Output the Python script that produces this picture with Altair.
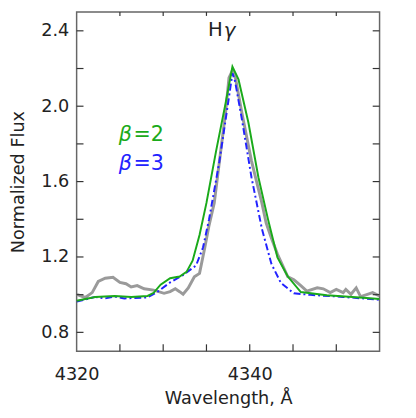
import altair as alt
import pandas as pd

# Observed spectrum (gray)
obs_wl = [4320.0, 4321.0, 4321.8, 4322.5, 4323.3, 4324.2, 4325.0, 4325.7, 4326.3, 4327.0,
          4327.8, 4328.9, 4330.1, 4330.8, 4331.4, 4331.9, 4332.3, 4332.9, 4333.6, 4334.2,
          4334.8, 4335.3, 4335.9, 4336.5, 4337.2, 4337.6, 4338.0, 4338.35, 4339.1, 4340.2,
          4341.4, 4341.9, 4342.5, 4343.2, 4344.4, 4345.1, 4345.9, 4346.6, 4347.8, 4348.5,
          4349.3, 4350.0, 4350.8, 4351.1, 4351.7, 4352.3, 4352.8, 4353.6, 4354.2, 4355.0]
obs_fx = [1.002, 0.985, 1.011, 1.070, 1.087, 1.092, 1.065, 1.058, 1.041, 1.048,
          1.031, 1.024, 1.007, 1.016, 1.031, 1.016, 1.002, 1.036, 1.095, 1.113,
          1.248, 1.368, 1.487, 1.708, 1.963, 2.150, 2.190, 2.150, 1.963, 1.710,
          1.487, 1.380, 1.300, 1.215, 1.095, 1.079, 1.048, 1.019, 1.036, 1.031,
          1.011, 1.028, 1.011, 1.028, 1.002, 1.036, 0.990, 1.002, 1.011, 0.993]

# Model beta=2 (green)
b2_wl = [4320.0, 4322.15, 4324.4, 4326.3, 4328.2, 4328.9, 4329.7, 4330.8, 4331.9, 4332.7,
         4333.4, 4334.2, 4335.0, 4336.1, 4337.2, 4338.0, 4338.7, 4339.85, 4341.0, 4342.1,
         4343.2, 4344.4, 4345.9, 4348.9, 4352.7, 4355.0]
b2_fx = [0.968, 0.988, 0.993, 0.988, 0.993, 1.010, 1.053, 1.087, 1.096, 1.121,
         1.180, 1.317, 1.487, 1.759, 2.014, 2.210, 2.142, 1.912, 1.623, 1.402,
         1.198, 1.096, 1.014, 0.997, 0.985, 0.977]

# Model beta=3 (blue)
b3_wl = [4320.0, 4322.15, 4323.3, 4324.4, 4325.5, 4328.2, 4329.3, 4330.8, 4332.3, 4333.8,
         4334.6, 4335.3, 4336.5, 4337.6, 4338.0, 4338.3, 4339.1, 4340.2, 4341.4, 4342.5,
         4343.6, 4345.1, 4347.0, 4350.8, 4355.0]
b3_fx = [0.963, 0.988, 0.980, 0.990, 0.980, 0.985, 1.014, 1.065, 1.104, 1.155,
         1.250, 1.400, 1.708, 2.048, 2.175, 2.133, 1.929, 1.623, 1.350, 1.164,
         1.062, 1.007, 0.999, 0.988, 0.973]

x_ticks = [4325, 4330, 4335, 4340, 4345, 4350]
x_labels = [4320, 4340]
y_ticks = [0.8, 1.0, 1.2, 1.4, 1.6, 1.8, 2.0, 2.2, 2.4]
y_labels = [0.8, 1.2, 1.6, 2.0, 2.4]

W, H = 309, 346
FONT = "DejaVu Sans"

obs = pd.DataFrame({"wl": obs_wl, "fx": obs_fx})
b2 = pd.DataFrame({"wl": b2_wl, "fx": b2_fx})
b3 = pd.DataFrame({"wl": b3_wl, "fx": b3_fx})
xt = pd.DataFrame({"v": x_ticks})
yt = pd.DataFrame({"v": y_ticks})

xscale = alt.Scale(domain=[4320, 4355], nice=False, zero=False)
yscale = alt.Scale(domain=[0.7, 2.5], nice=False, zero=False)

xenc = alt.X("wl:Q", scale=xscale,
             axis=alt.Axis(values=x_labels, ticks=False, domain=False, grid=False,
                           labelFontSize=18, labelFont=FONT, labelColor="#222",
                           labelPadding=15, format="d", labelFlush=False,
                           title="Wavelength, Å", titleFont=FONT, titleFontSize=18,
                           titleFontWeight="normal", titleColor="#222", titlePadding=6))
yenc = alt.Y("fx:Q", scale=yscale,
             axis=alt.Axis(values=y_labels, ticks=False, domain=False, grid=False,
                           labelFontSize=18, labelFont=FONT, labelColor="#222",
                           labelPadding=8, format=".1f", labelFlush=False,
                           title="Normalized Flux", titleFont=FONT, titleFontSize=18,
                           titleFontWeight="normal", titleColor="#222", titlePadding=14))

gray = alt.Chart(obs).mark_line(color="#9a9a9a", strokeWidth=3, clip=True).encode(x=xenc, y=yenc)
green = alt.Chart(b2).mark_line(color="#1aaa1a", strokeWidth=2, clip=True).encode(
    x=alt.X("wl:Q", scale=xscale), y=alt.Y("fx:Q", scale=yscale))
blue = alt.Chart(b3).mark_line(color="#2222ff", strokeWidth=2, strokeDash=[7, 3, 2, 3], clip=True).encode(
    x=alt.X("wl:Q", scale=xscale), y=alt.Y("fx:Q", scale=yscale))

tick_color = "#333"
bot = alt.Chart(xt).mark_rule(color=tick_color, strokeWidth=1.2).encode(
    x=alt.X("v:Q", scale=xscale), y=alt.value(H), y2=alt.value(H - 7))
top = alt.Chart(xt).mark_rule(color=tick_color, strokeWidth=1.2).encode(
    x=alt.X("v:Q", scale=xscale), y=alt.value(0), y2=alt.value(4))
left = alt.Chart(yt).mark_rule(color=tick_color, strokeWidth=1.2).encode(
    y=alt.Y("v:Q", scale=yscale), x=alt.value(0), x2=alt.value(7))
right = alt.Chart(yt).mark_rule(color=tick_color, strokeWidth=1.2).encode(
    y=alt.Y("v:Q", scale=yscale), x=alt.value(W), x2=alt.value(W - 7))

ann_src = alt.Chart(pd.DataFrame({"a": [0]}))
h_txt = ann_src.mark_text(text="H", font=FONT, fontSize=20, color="#222", align="right",
                          baseline="middle").encode(x=alt.value(149), y=alt.value(19))
g_txt = ann_src.mark_text(text="γ", font=FONT, fontSize=20, fontStyle="italic", color="#222",
                          align="left", baseline="middle").encode(x=alt.value(150), y=alt.value(20))
b2a = ann_src.mark_text(text="β", font=FONT, fontSize=21, fontStyle="italic", color="#1aaa1a",
                        align="left", baseline="middle").encode(x=alt.value(43), y=alt.value(126))
b2b = ann_src.mark_text(text="=2", font=FONT, fontSize=21, color="#1aaa1a",
                        align="left", baseline="middle").encode(x=alt.value(58), y=alt.value(126))
b3a = ann_src.mark_text(text="β", font=FONT, fontSize=21, fontStyle="italic", color="#2222ff",
                        align="left", baseline="middle").encode(x=alt.value(43), y=alt.value(155))
b3b = ann_src.mark_text(text="=3", font=FONT, fontSize=21, color="#2222ff",
                        align="left", baseline="middle").encode(x=alt.value(58), y=alt.value(155))

chart = alt.layer(gray, blue, green, bot, top, left, right, h_txt, g_txt, b2a, b2b, b3a, b3b).properties(
    width=W, height=H,
    autosize=alt.AutoSizeParams(type="none"),
    padding={"left": 70, "top": 0, "right": 29, "bottom": 60},
).configure_view(stroke="#666", strokeWidth=1.5)

chart.save("out.html", embed_options={"renderer": "svg", "actions": False})
